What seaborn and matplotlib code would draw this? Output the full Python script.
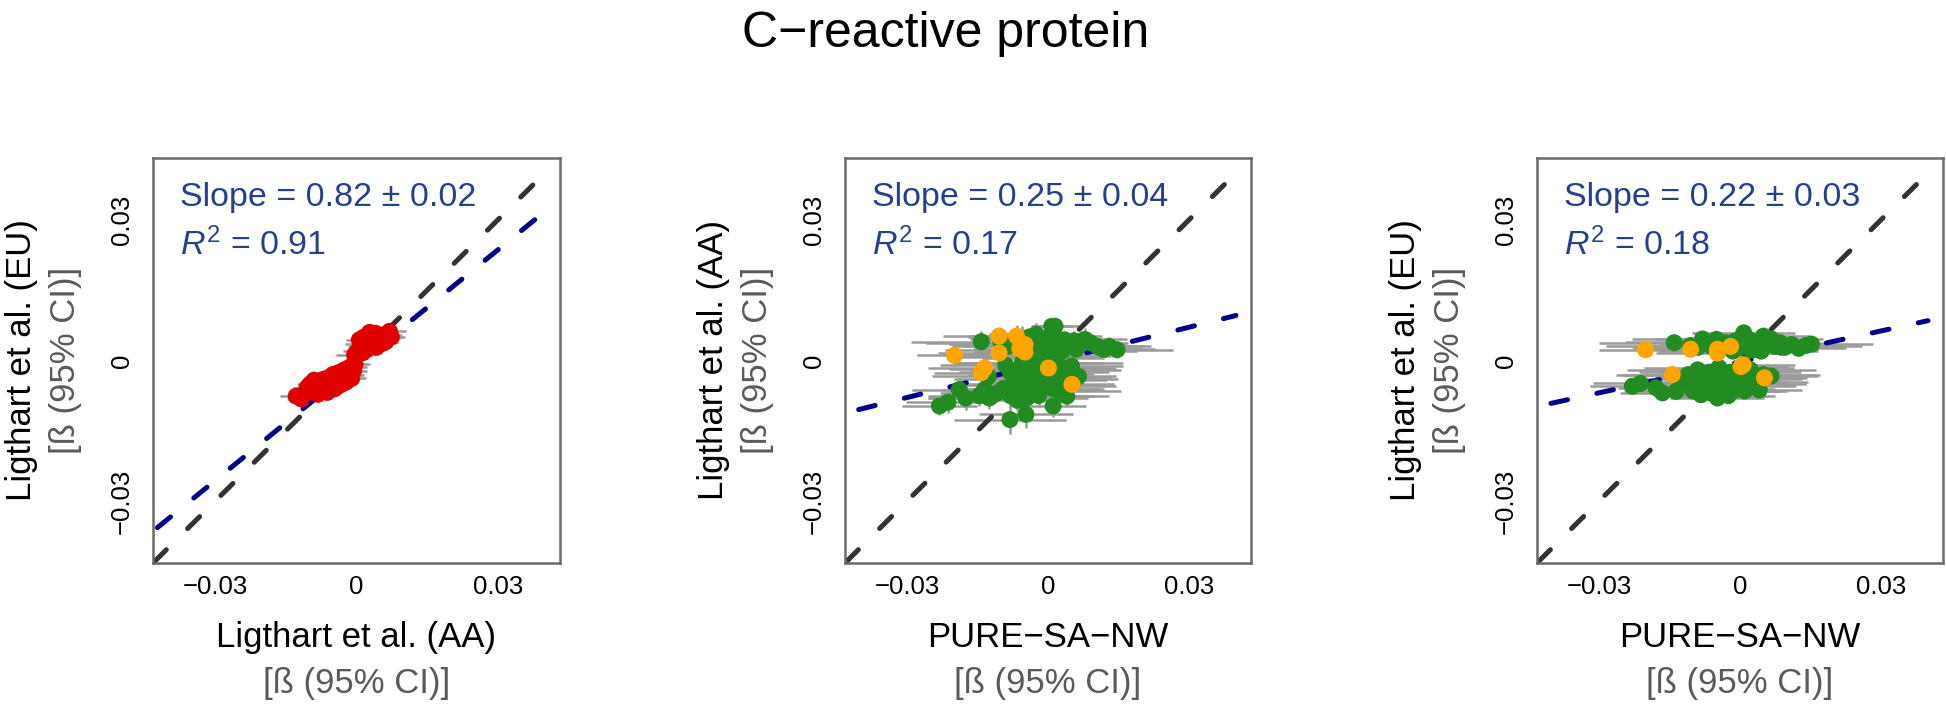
import numpy as np
import pandas as pd
import seaborn as sns
import matplotlib
matplotlib.use("Agg")
import matplotlib.pyplot as plt
from matplotlib import font_manager

# ---------------- data ----------------
title = "C\u2212reactive protein"
tick_values = [-0.03, 0.0, 0.03]
tick_labels = ["\u22120.03", "0", "0.03"]

xlabels = ["Ligthart et al. (AA)", "PURE\u2212SA\u2212NW", "PURE\u2212SA\u2212NW"]
ylabels = ["Ligthart et al. (EU)", "Ligthart et al. (AA)", "Ligthart et al. (EU)"]
slope_text = ["Slope = 0.82 \u00b1 0.02", "Slope = 0.25 \u00b1 0.04", "Slope = 0.22 \u00b1 0.03"]
r2_text = ["0.91", "0.17", "0.18"]
fit_slopes = [0.82, 0.25, 0.22]
fit_intercepts = [-0.0010, -0.0004, -0.0003]

# Panel 1 (red)
p1_x = [0.0002, 0.0008, 0.0014, 0.0010, 0.0018, 0.0024, 0.0028, 0.0030, 0.0034, 0.0038,
        0.0042, 0.0046, 0.0050, 0.0054, 0.0058, 0.0062, 0.0066, 0.0070, 0.0074, 0.0022,
        0.0040, 0.0016, -0.0004, 0.0006,
        -0.0105, -0.0098, -0.0094, -0.0090, -0.0086, -0.0082, -0.0078, -0.0074, -0.0070, -0.0066,
        -0.0062, -0.0058, -0.0054, -0.0050, -0.0046, -0.0042, -0.0038, -0.0034, -0.0030, -0.0026,
        -0.0022, -0.0018, -0.0014, -0.0010, -0.0006, -0.0003, -0.0060, -0.0048, -0.0036, -0.0080,
        -0.0128, -0.0117]
p1_y = [0.0020, 0.0028, 0.0017, 0.0036, 0.0042, 0.0030, 0.0060, 0.0048, 0.0038, 0.0052,
        0.0028, 0.0044, 0.0054, 0.0036, 0.0048, 0.0040, 0.0055, 0.0062, 0.0050, 0.0024,
        0.0058, 0.0050, 0.0012, 0.0044,
        -0.0058, -0.0050, -0.0066, -0.0042, -0.0058, -0.0072, -0.0048, -0.0062, -0.0040, -0.0054,
        -0.0068, -0.0036, -0.0050, -0.0030, -0.0060, -0.0044, -0.0026, -0.0052, -0.0036, -0.0020,
        -0.0046, -0.0030, -0.0014, -0.0038, -0.0022, -0.0008, -0.0046, -0.0040, -0.0032, -0.0056,
        -0.0076, -0.0082]
p1_xerr = [0.0030, 0.0025, 0.0028, 0.0035, 0.0022, 0.0030, 0.0026, 0.0032, 0.0024, 0.0030,
           0.0028, 0.0025, 0.0030, 0.0022, 0.0034, 0.0026, 0.0030, 0.0036, 0.0028, 0.0024,
           0.0030, 0.0026, 0.0040, 0.0028,
           0.0030, 0.0028, 0.0032, 0.0026, 0.0030, 0.0024, 0.0034, 0.0028, 0.0030, 0.0026,
           0.0030, 0.0032, 0.0028, 0.0034, 0.0026, 0.0036, 0.0030, 0.0028, 0.0032, 0.0030,
           0.0026, 0.0034, 0.0036, 0.0030, 0.0028, 0.0032, 0.0026, 0.0030, 0.0028, 0.0032,
           0.0034, 0.0030]
p1_yerr = [0.0014, 0.0012, 0.0016, 0.0013, 0.0012, 0.0015, 0.0014, 0.0012, 0.0016, 0.0013,
           0.0012, 0.0014, 0.0015, 0.0012, 0.0013, 0.0014, 0.0012, 0.0016, 0.0013, 0.0012,
           0.0014, 0.0013, 0.0015, 0.0012,
           0.0016, 0.0014, 0.0018, 0.0013, 0.0015, 0.0017, 0.0014, 0.0016, 0.0013, 0.0015,
           0.0017, 0.0014, 0.0016, 0.0013, 0.0018, 0.0014, 0.0013, 0.0016, 0.0014, 0.0013,
           0.0015, 0.0014, 0.0013, 0.0016, 0.0014, 0.0013, 0.0015, 0.0014, 0.0013, 0.0016,
           0.0015, 0.0016]

# Panel 2 (green / orange)
p2_gx = [-0.0142, -0.0100, -0.0085, -0.0070, -0.0055, -0.0040, -0.0025, -0.0015, -0.0005, 0.0005,
         0.0008, 0.0015, 0.0015, 0.0025, 0.0035, 0.0045, 0.0055, 0.0065, 0.0078, 0.0090,
         0.0105, 0.0118, 0.0130, 0.0147, 0.0060, -0.0030, -0.0050, -0.0010, 0.0030,
         -0.0127, -0.0090, -0.0080, -0.0070, -0.0060, -0.0050, -0.0040, -0.0035, -0.0025, -0.0015,
         -0.0010, -0.0005, 0.0000, 0.0010, 0.0020, 0.0025, 0.0035, 0.0045, 0.0065, 0.0050,
         -0.0020, 0.0005, -0.0045, -0.0075, -0.0030, 0.0015, -0.0012, -0.0055,
         -0.0231, -0.0213, -0.0189, -0.0175, -0.0146, -0.0125, -0.0135, -0.0081, -0.0047, 0.0011,
         0.0040, -0.0095, -0.0080, -0.0060, -0.0045, -0.0030, -0.0020, -0.0005, 0.0010, 0.0025,
         -0.0065, -0.0110]
p2_gy = [0.0040, 0.0038, 0.0030, 0.0036, 0.0045, 0.0050, 0.0056, 0.0046, 0.0040, 0.0052,
         0.0073, 0.0073, 0.0042, 0.0036, 0.0044, 0.0030, 0.0042, 0.0033, 0.0045, 0.0038,
         0.0030, 0.0024, 0.0030, 0.0023, 0.0024, 0.0030, 0.0022, 0.0022, 0.0020,
         -0.0034, -0.0010, -0.0025, -0.0040, -0.0018, -0.0030, -0.0005, -0.0045, -0.0020, -0.0035,
         0.0005, -0.0015, -0.0040, -0.0025, -0.0005, -0.0042, -0.0020, -0.0035, -0.0034, -0.0012,
         0.0012, 0.0010, 0.0008, -0.0050, -0.0052, -0.0015, -0.0028, -0.0005,
         -0.0097, -0.0089, -0.0062, -0.0080, -0.0075, -0.0080, -0.0062, -0.0126, -0.0115, -0.0097,
         -0.0076, -0.0060, -0.0075, -0.0065, -0.0080, -0.0060, -0.0075, -0.0055, -0.0060, -0.0065,
         -0.0085, -0.0070]
p2_gxerr = [0.0150, 0.0160, 0.0120, 0.0140, 0.0110, 0.0130, 0.0100, 0.0120, 0.0090, 0.0110,
            0.0045, 0.0050, 0.0100, 0.0120, 0.0090, 0.0110, 0.0080, 0.0100, 0.0090, 0.0080,
            0.0100, 0.0110, 0.0090, 0.0120, 0.0140, 0.0150, 0.0170, 0.0130, 0.0160,
            0.0120, 0.0140, 0.0110, 0.0130, 0.0150, 0.0120, 0.0160, 0.0100, 0.0140, 0.0120,
            0.0130, 0.0110, 0.0150, 0.0120, 0.0140, 0.0100, 0.0120, 0.0090, 0.0080, 0.0110,
            0.0150, 0.0130, 0.0140, 0.0120, 0.0150, 0.0130, 0.0110, 0.0140,
            0.0080, 0.0090, 0.0100, 0.0080, 0.0110, 0.0130, 0.0090, 0.0120, 0.0100, 0.0070,
            0.0090, 0.0120, 0.0150, 0.0110, 0.0130, 0.0140, 0.0120, 0.0150, 0.0110, 0.0130,
            0.0090, 0.0120]
p2_gyerr = [0.0022, 0.0020, 0.0025, 0.0022, 0.0028, 0.0020, 0.0024, 0.0022, 0.0026, 0.0021,
            0.0016, 0.0018, 0.0022, 0.0024, 0.0020, 0.0026, 0.0022, 0.0020, 0.0024, 0.0022,
            0.0020, 0.0018, 0.0020, 0.0018, 0.0022, 0.0024, 0.0022, 0.0020, 0.0022,
            0.0024, 0.0022, 0.0026, 0.0020, 0.0024, 0.0022, 0.0026, 0.0020, 0.0024, 0.0022,
            0.0026, 0.0020, 0.0024, 0.0022, 0.0020, 0.0024, 0.0022, 0.0020, 0.0024, 0.0022,
            0.0020, 0.0022, 0.0024, 0.0022, 0.0020, 0.0024, 0.0022, 0.0020,
            0.0020, 0.0022, 0.0024, 0.0026, 0.0022, 0.0024, 0.0020, 0.0030, 0.0028, 0.0024,
            0.0022, 0.0020, 0.0024, 0.0022, 0.0026, 0.0020, 0.0024, 0.0022, 0.0020, 0.0024,
            0.0022, 0.0020]
p2_ox = [-0.0199, -0.0104, -0.0067, -0.0049, -0.0049, -0.0104, -0.0135, -0.0142, 0.0001, 0.0051, -0.0060]
p2_oy = [0.0011, 0.0052, 0.0052, 0.0034, 0.0018, 0.0016, -0.0016, -0.0026, -0.0016, -0.0051, 0.0025]
p2_oxerr = [0.0080, 0.0120, 0.0100, 0.0090, 0.0110, 0.0130, 0.0120, 0.0100, 0.0110, 0.0090, 0.0100]
p2_oyerr = [0.0022, 0.0020, 0.0024, 0.0022, 0.0020, 0.0022, 0.0024, 0.0020, 0.0022, 0.0024, 0.0020]

# Panel 3 (green / orange)
p3_gx = [-0.0140, -0.0105, -0.0090, -0.0075, -0.0060, -0.0050, -0.0040, -0.0030, -0.0020, -0.0010,
         0.0000, 0.0008, 0.0012, 0.0020, 0.0030, 0.0040, 0.0050, 0.0058, 0.0066, 0.0075,
         0.0085, 0.0095, 0.0110, 0.0125, 0.0140, 0.0152, -0.0015, 0.0025, -0.0080, 0.0045,
         -0.0229, -0.0212, -0.0179, -0.0165, -0.0136, -0.0125, -0.0110, -0.0100, -0.0090, -0.0083,
         -0.0078, -0.0070, -0.0065, -0.0055, -0.0048, -0.0045, -0.0040, -0.0035, -0.0028, -0.0020,
         -0.0015, -0.0008, 0.0000, 0.0008, 0.0015, 0.0022, 0.0030, 0.0041, 0.0050, 0.0066,
         -0.0060, -0.0025, 0.0010, -0.0100]
p3_gy = [0.0038, 0.0032, 0.0028, 0.0040, 0.0030, 0.0045, 0.0025, 0.0038, 0.0030, 0.0042,
         0.0028, 0.0059, 0.0036, 0.0044, 0.0030, 0.0040, 0.0052, 0.0034, 0.0046, 0.0030,
         0.0038, 0.0028, 0.0034, 0.0026, 0.0032, 0.0035, 0.0020, 0.0022, 0.0046, 0.0020,
         -0.0055, -0.0049, -0.0058, -0.0069, -0.0066, -0.0045, -0.0030, -0.0055, -0.0020, -0.0073,
         -0.0040, -0.0060, -0.0025, -0.0048, -0.0080, -0.0015, -0.0035, -0.0060, -0.0045, -0.0025,
         -0.0065, -0.0040, -0.0055, -0.0030, -0.0045, -0.0020, -0.0050, -0.0063, -0.0030, -0.0033,
         -0.0070, -0.0075, -0.0065, -0.0065]
p3_gxerr = [0.0160, 0.0180, 0.0140, 0.0170, 0.0150, 0.0130, 0.0160, 0.0140, 0.0120, 0.0150,
            0.0130, 0.0110, 0.0140, 0.0120, 0.0130, 0.0110, 0.0100, 0.0120, 0.0110, 0.0130,
            0.0100, 0.0120, 0.0110, 0.0100, 0.0120, 0.0130, 0.0160, 0.0140, 0.0150, 0.0120,
            0.0090, 0.0100, 0.0080, 0.0090, 0.0110, 0.0120, 0.0140, 0.0130, 0.0150, 0.0100,
            0.0160, 0.0120, 0.0150, 0.0130, 0.0100, 0.0160, 0.0140, 0.0110, 0.0130, 0.0150,
            0.0100, 0.0140, 0.0120, 0.0150, 0.0130, 0.0140, 0.0110, 0.0090, 0.0120, 0.0100,
            0.0110, 0.0100, 0.0090, 0.0120]
p3_gyerr = [0.0010, 0.0012, 0.0010, 0.0011, 0.0012, 0.0010, 0.0011, 0.0010, 0.0012, 0.0011,
            0.0010, 0.0012, 0.0011, 0.0010, 0.0012, 0.0011, 0.0010, 0.0012, 0.0011, 0.0010,
            0.0012, 0.0011, 0.0010, 0.0012, 0.0011, 0.0010, 0.0012, 0.0011, 0.0010, 0.0012,
            0.0012, 0.0011, 0.0010, 0.0012, 0.0011, 0.0010, 0.0012, 0.0011, 0.0010, 0.0012,
            0.0011, 0.0010, 0.0012, 0.0011, 0.0013, 0.0012, 0.0011, 0.0010, 0.0012, 0.0011,
            0.0010, 0.0012, 0.0011, 0.0010, 0.0012, 0.0011, 0.0010, 0.0012, 0.0011, 0.0010,
            0.0012, 0.0011, 0.0010, 0.0012]
p3_ox = [-0.0201, -0.0105, -0.0048, -0.0048, -0.0144, 0.0002, 0.0007, 0.0052, -0.0020]
p3_oy = [0.0023, 0.0024, 0.0024, 0.0016, -0.0030, -0.0013, -0.0009, -0.0037, 0.0030]
p3_oxerr = [0.0100, 0.0120, 0.0110, 0.0130, 0.0120, 0.0100, 0.0110, 0.0090, 0.0120]
p3_oyerr = [0.0011, 0.0010, 0.0012, 0.0011, 0.0010, 0.0012, 0.0011, 0.0010, 0.0011]

# ---------------- style ----------------
sns.set_theme(style="white")
base_font = "Liberation Sans"
plt.rcParams["font.family"] = [base_font, "DejaVu Sans"]
plt.rcParams["mathtext.fontset"] = "custom"
plt.rcParams["mathtext.rm"] = "Liberation Sans"
plt.rcParams["mathtext.it"] = "Liberation Sans:italic"

title_font = base_font
title_size = 36
for cand in ["Liberation Sans Narrow", "Arial Narrow"]:
    try:
        font_manager.findfont(cand, fallback_to_default=False)
        title_font = cand
        title_size = 40
        break
    except Exception:
        pass

RED = "#E00000"
GREEN = "#228B22"
ORANGE = "#FFA500"
ERR = "#9A9A9A"
TXT_BLUE = "#27408B"
FIT_BLUE = "#00008B"
DIAG = "#333333"
SPINE = "#6A6A6A"

W, H = 1946, 711
fig = plt.figure(figsize=(W / 100, H / 100), dpi=100)

lefts = [153, 845, 1537]
widths = [407, 406, 406]
top_px, bot_px = 158, 563
PT = 0.72  # points per pixel

panels = [
    [(p1_x, p1_y, p1_xerr, p1_yerr, RED)],
    [(p2_gx, p2_gy, p2_gxerr, p2_gyerr, GREEN), (p2_ox, p2_oy, p2_oxerr, p2_oyerr, ORANGE)],
    [(p3_gx, p3_gy, p3_gxerr, p3_gyerr, GREEN), (p3_ox, p3_oy, p3_oxerr, p3_oyerr, ORANGE)],
]

lim = 0.0432
line_x = np.array([-0.05, 0.04])

for i in range(3):
    ax = fig.add_axes([lefts[i] / W, 1 - bot_px / H, widths[i] / W, (bot_px - top_px) / H])
    for (xs, ys, xe, ye, col) in panels[i]:
        ax.errorbar(xs, ys, xerr=xe, yerr=ye, fmt="none", ecolor=ERR,
                    elinewidth=1.8, capsize=0, zorder=1)
    l1, = ax.plot(line_x, line_x, color=DIAG, lw=3.6, zorder=2, dash_capstyle="round")
    l1.set_dashes((3.4, 6.0))
    l2, = ax.plot(line_x, fit_slopes[i] * line_x + fit_intercepts[i], color=FIT_BLUE,
                  lw=3.6, zorder=2, dash_capstyle="round")
    l2.set_dashes((3.4, 6.0))
    for (xs, ys, xe, ye, col) in panels[i]:
        df = pd.DataFrame({"x": xs, "y": ys})
        sns.scatterplot(data=df, x="x", y="y", color=col, s=150,
                        linewidth=0, edgecolor="none", ax=ax, zorder=3, legend=False)

    ax.set_xlim(-lim, lim)
    ax.set_ylim(-lim, lim)
    ax.set_xlabel("")
    ax.set_ylabel("")
    ax.set_xticks(tick_values)
    ax.set_yticks(tick_values)
    ax.set_xticklabels(tick_labels, fontsize=18.5)
    ax.set_yticklabels(tick_labels, fontsize=18.5, rotation=90, va="center")
    ax.tick_params(axis="both", direction="in", length=7, width=1.5, color="black",
                   labelcolor="black")
    ax.tick_params(axis="x", pad=9)
    ax.tick_params(axis="y", pad=14)
    for sp in ax.spines.values():
        sp.set_visible(True)
        sp.set_color(SPINE)
        sp.set_linewidth(1.8)

    ax.annotate(slope_text[i], xy=(0, 1), xycoords="axes fraction",
                xytext=(27 * PT, -48 * PT), textcoords="offset points",
                ha="left", va="baseline", fontsize=24.5, color=TXT_BLUE)
    ax.annotate(r"$R^2$ = " + r2_text[i], xy=(0, 1), xycoords="axes fraction",
                xytext=(27 * PT, -97 * PT), textcoords="offset points",
                ha="left", va="baseline", fontsize=24.5, color=TXT_BLUE)

    ax.annotate(xlabels[i], xy=(0.5, 0), xycoords="axes fraction",
                xytext=(0, -(647 - bot_px) * PT), textcoords="offset points",
                ha="center", va="baseline", fontsize=25, color="black")
    ax.annotate("[\u00df (95% CI)]", xy=(0.5, 0), xycoords="axes fraction",
                xytext=(0, -(693 - bot_px) * PT), textcoords="offset points",
                ha="center", va="baseline", fontsize=25, color="#5A5A5A")
    ax.annotate(ylabels[i], xy=(0, 0.5), xycoords="axes fraction",
                xytext=(-132 * PT, 0), textcoords="offset points",
                ha="center", va="center", rotation=90, fontsize=25, color="black")
    ax.annotate("[\u00df (95% CI)]", xy=(0, 0.5), xycoords="axes fraction",
                xytext=(-88 * PT, 0), textcoords="offset points",
                ha="center", va="center", rotation=90, fontsize=25, color="#5A5A5A")

fig.text(946 / W, 1 - 47 / H, title, ha="center", va="baseline",
         fontsize=title_size, family=[title_font, "DejaVu Sans"], color="black")

fig.savefig("out.png", dpi=100, facecolor="white")
